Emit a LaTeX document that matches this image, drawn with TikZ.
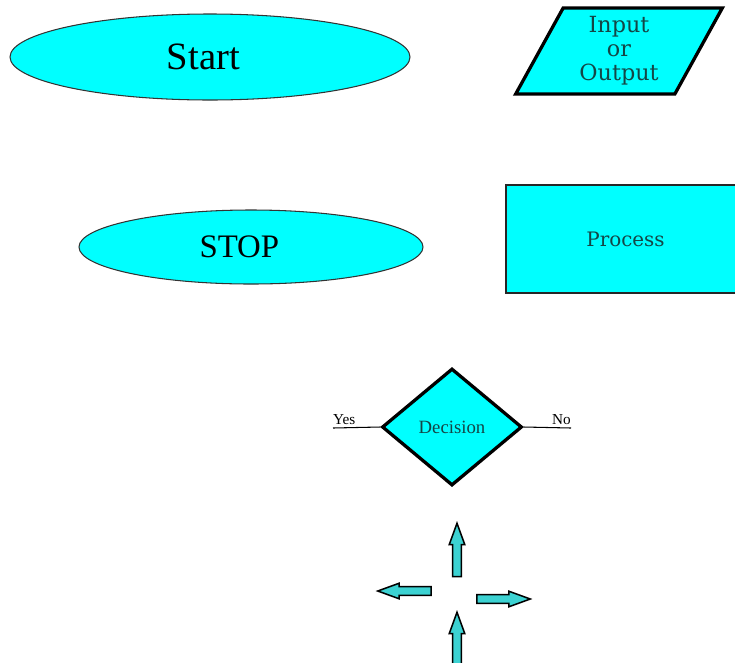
\documentclass[tikz,border=0pt]{standalone}
\usepackage{fontspec}
\setmainfont{Liberation Serif}
\newfontfamily\wideserif{DejaVu Serif}
\usetikzlibrary{positioning,shapes.geometric,shapes.arrows}
\definecolor{aqua}{RGB}{0,255,255}
\definecolor{tealtext}{RGB}{20,70,70}
\definecolor{arrowfill}{RGB}{60,210,210}
\tikzset{
  terminal/.style={ellipse, draw=black!80, line width=0.9pt, fill=aqua, inner sep=0pt},
  inout/.style={trapezium, trapezium left angle=64, trapezium right angle=116, trapezium stretches=true, draw, line width=2.8pt, fill=aqua, align=center, text=tealtext, font=\wideserif\fontsize{19}{20.5}\selectfont, inner sep=0pt},
  procbox/.style={rectangle, draw=black!85, line width=2.4pt, fill=aqua, text=tealtext, font=\wideserif\fontsize{17}{20}\selectfont},
  decision/.style={diamond, draw, line width=2.8pt, fill=aqua, text=tealtext, font=\fontsize{16}{19}\selectfont, inner sep=0pt},
  blockarrow/.style={single arrow, draw, line width=1.3pt, fill=arrowfill, inner xsep=0pt, inner ysep=0.11cm, single arrow head extend=0.1cm, single arrow tip angle=40, minimum height=1.6cm},
  branch/.style={font=\fontsize{13}{15}\selectfont, inner sep=0pt},
}

\begin{document}
\begin{tikzpicture}[x=0.03cm, y=-0.03cm]
  \useasboundingbox (0,0) rectangle (735,662);
  \clip (0,0) rectangle (735,662);
  \node[terminal, minimum width=12cm, minimum height=2.58cm, font=\fontsize{33}{38}\selectfont] (start) at (210,57) {Start\hspace*{0.4cm}};
  \node[inout, minimum width=6.21cm, minimum height=2.58cm] (io) at (619,51) {Input\\or\\Output};
  \node[terminal, minimum width=10.32cm, minimum height=2.22cm, font=\fontsize{28}{32}\selectfont] (stop) at (251,247) {STOP\hspace*{0.7cm}};
  \node[procbox, minimum width=7.17cm, minimum height=3.24cm] (proc) at (625.5,239) {Process};
  \node[decision, minimum width=4.2cm, minimum height=3.51cm] (dec) at (452,427) {Decision};
  \coordinate (yesend) at (333,428);
  \coordinate (noend) at (571,428);
  \draw[line width=0.9pt] (yesend) -- (dec.west);
  \draw[line width=0.9pt] (dec.east) -- (noend);
  \node[branch, anchor=south west] (yes) at (333,425) {Yes};
  \node[branch, anchor=south east] (no) at (571,425) {No};
  \foreach \nm/\xx/\yy/\ang in {arrup/457/556/90, arrleft/410.5/591/180, arrright/497.5/599/0, arrlow/457/645/90}
    \node[blockarrow, rotate=\ang] (\nm) at (\xx,\yy) {};
\end{tikzpicture}
\end{document}
